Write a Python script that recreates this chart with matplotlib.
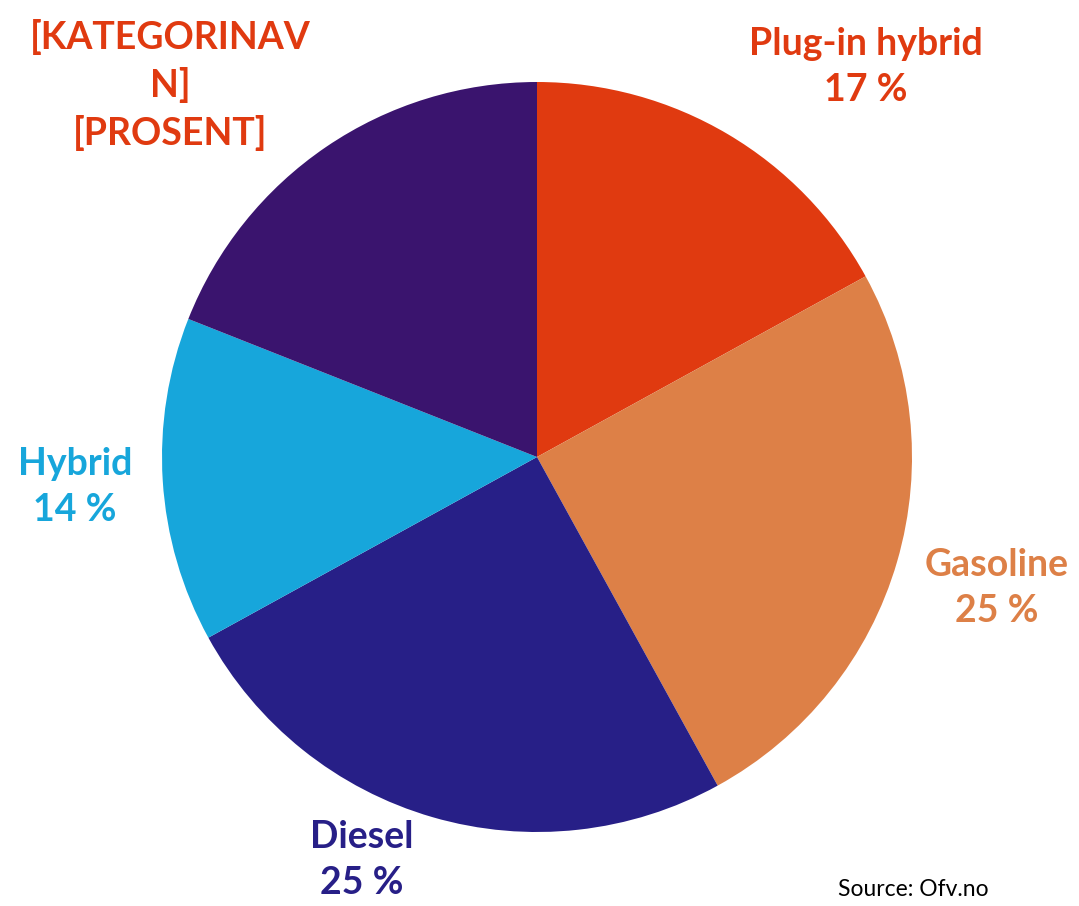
import matplotlib.pyplot as plt

# data (clockwise from 12 o'clock)
categories = ['Plug-in hybrid', 'Gasoline', 'Diesel', 'Hybrid', '[KATEGORINAV\nN]']
shares = [17, 25, 25, 14, 19]
colors = ['#E03A10', '#DD8047', '#271F87', '#17A6DB', '#3A146E']
label_colors = ['#E03A10', '#DD8047', '#271F87', '#17A6DB', '#E03A10']

W, H = 1079, 906
fig = plt.figure(figsize=(W / 100, H / 100), dpi=100)
ax = fig.add_axes([0, 0, 1, 1])

cx, cy, r = 537, H - 457, 375
ax.pie(shares, colors=colors, startangle=90, counterclock=False,
       center=(cx, cy), radius=r, frame=True)
ax.set_xlim(0, W)
ax.set_ylim(0, H)
ax.set_aspect('equal')
ax.axis('off')

# label spots (pixel positions from top-left of the image)
spots = [(866, 67), (997, 588), (362, 860), (75, 487), (170, 85)]
font = ['Lato', 'DejaVu Sans']
for name, v, col, (x, y) in zip(categories, shares, label_colors, spots):
    if name.startswith('['):
        txt = name + '\n[PROSENT]'
    else:
        txt = f'{name}\n{v} %'
    ax.text(x, H - y, txt, ha='center', va='center', color=col,
            fontsize=27, fontweight='bold', family=font, linespacing=1.4)

ax.text(838, H - 889, 'Source: Ofv.no', ha='left', va='center',
        fontsize=16.5, color='black', family=font)

fig.savefig('out.png', dpi=100)
